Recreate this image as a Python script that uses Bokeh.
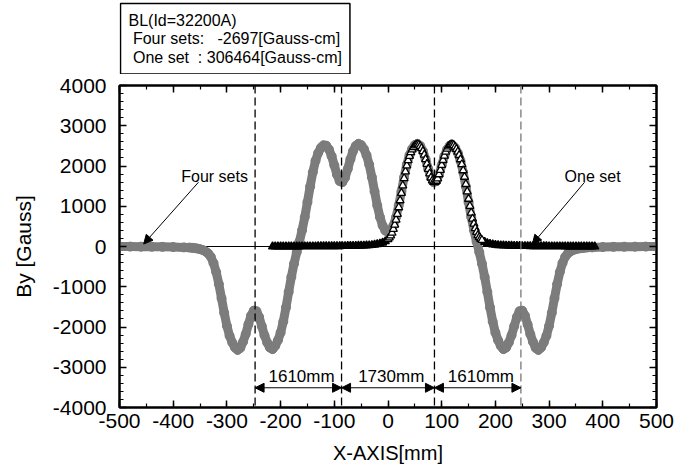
from bokeh.plotting import figure
from bokeh.layouts import column
from bokeh.models import (Range1d, LinearAxis, SingleIntervalTicker, Span, Arrow,
                          NormalHead, Label, ColumnDataSource, CustomJSTickFormatter)
from bokeh.embed import file_html
from bokeh.resources import INLINE

FONT = "Liberation Sans"

# ---- data: "Four sets" (gray circles) ----
four_x = [-500, -480, -460, -440, -420, -400, -380,
          -370, -365, -360, -355, -350, -345, -340, -335, -330, -325, -320, -315, -310, -305,
          -300, -295, -290, -285, -280, -275, -270, -265, -260, -255, -250, -245, -240, -235,
          -230, -225, -220, -215, -210, -205, -200, -195, -190, -185, -180, -175, -170, -165,
          -160, -155, -150, -145, -140, -135, -130, -125, -120, -115, -110, -105, -100, -95,
          -90, -85, -80, -75, -70, -65, -60, -55, -50, -45, -40, -35, -30, -25, -20, -15, -10, -5,
          0,
          5, 10, 15, 20, 25, 30, 35, 40, 45, 50, 55, 60, 65, 70, 75, 80, 85, 90, 95,
          100, 105, 110, 115, 120, 125, 130, 135, 140, 145, 150, 155, 160, 165, 170, 175,
          180, 185, 190, 195, 200, 205, 210, 215, 220, 225, 230, 235, 240, 245, 250, 255,
          260, 265, 270, 275, 280, 285, 290, 295, 300, 305, 310, 315, 320, 325, 330, 335,
          340, 345, 350, 355, 360, 365, 370,
          380, 400, 420, 440, 460, 480, 500]
four_by = [-2, -3, -4, -6, -9, -13, -22,
           -27, -32, -40, -51, -66, -87, -120, -172, -256, -409, -635, -933, -1286, -1650,
           -1973, -2219, -2386, -2510, -2570, -2520, -2370, -2178, -1938, -1716, -1594, -1606, -1752, -1980,
           -2210, -2385, -2510, -2550, -2470, -2330, -2140, -1866, -1515, -1130, -755, -428, -142, 120,
           406, 729, 1102, 1488, 1845, 2130, 2326, 2452, 2515, 2504, 2413, 2245, 2018, 1784,
           1625, 1598, 1709, 1925, 2168, 2373, 2500, 2552, 2522, 2427, 2268, 2035, 1722, 1367, 1021, 730, 520, 394,
           360,
           394, 520, 730, 1021, 1367, 1722, 2035, 2268, 2427, 2522, 2552, 2500, 2373, 2168, 1925, 1709, 1598, 1625, 1784,
           2018, 2245, 2413, 2504, 2515, 2452, 2326, 2130, 1845, 1488, 1102, 729, 406, 120, -142, -428,
           -755, -1130, -1515, -1866, -2140, -2330, -2470, -2550, -2510, -2385, -2210, -1980, -1752, -1606, -1594, -1716,
           -1938, -2178, -2370, -2520, -2570, -2510, -2386, -2219, -1973, -1650, -1286, -933, -635, -409, -256, -172,
           -120, -87, -66, -51, -40, -32, -27,
           -22, -13, -9, -6, -4, -3, -2]

# ---- data: "One set" (open triangles) ----
one_x = [-215, -210, -205, -200, -195, -190, -185, -180, -175, -170, -165, -160, -155, -150,
         -145, -140, -135, -130, -125, -120, -115, -110, -105, -100, -95, -90, -85, -80, -75,
         -70, -65, -60, -55, -50, -45, -40, -35, -30, -25, -20, -15, -10, -5,
         0, 2.5, 5, 7.5, 10, 12.5, 15, 17.5, 20, 22.5, 25, 27.5, 30, 32.5, 35, 37.5, 40, 42.5,
         45, 47.5, 50, 52.5, 55, 57.5, 60, 62.5, 65, 67.5, 70, 72.5, 75, 77.5, 80, 82.5, 85, 87.5,
         90, 92.5, 95, 97.5, 100, 102.5, 105, 107.5, 110, 112.5, 115, 117.5, 120, 122.5, 125, 127.5,
         130, 132.5, 135, 137.5, 140, 142.5, 145, 147.5, 150, 152.5, 155, 157.5, 160, 162.5, 165,
         167.5, 170, 172.5, 175,
         180, 185, 190, 195, 200, 205, 210, 215, 220, 225, 230, 235, 240, 245, 250, 255, 260,
         265, 270, 275, 280, 285, 290, 295, 300, 305, 310, 315, 320, 325, 330, 335, 340, 345,
         350, 355, 360, 365, 370, 375, 380, 385]
one_by = [0, 0, 1, 1, 1, 1, 2, 2, 2, 2, 2, 3, 3, 3,
          4, 4, 4, 5, 5, 5, 5, 6, 6, 7, 8, 8, 9, 10, 11,
          12, 13, 15, 17, 19, 22, 26, 29, 34, 43, 55, 70, 92, 128,
          182, 220, 270, 338, 433, 540, 665, 806, 971, 1144, 1329, 1512, 1692, 1860, 2010, 2142, 2247, 2338,
          2408, 2466, 2506, 2532, 2537, 2526, 2491, 2440, 2365, 2276, 2166, 2050, 1925, 1810, 1710, 1636, 1601, 1594,
          1629, 1690, 1790, 1900, 2025, 2144, 2254, 2350, 2425, 2484, 2519, 2538, 2533, 2514, 2474, 2422,
          2352, 2268, 2163, 2040, 1890, 1728, 1548, 1366, 1181, 1004, 839, 690, 565, 452, 357,
          280, 230, 188, 158,
          112, 82, 65, 50, 40, 33, 28, 25, 23, 20, 17, 15, 13, 11, 10, 9, 9,
          8, 7, 7, 6, 5, 5, 5, 4, 4, 4, 3, 3, 3, 2, 2, 2, 2,
          1, 1, 1, 1, 1, 0, 0, 0]

# ---- annotation values ----
magnet_edges = [-247.5, -86.5, 86.5, 247.5]
gap_labels = ["1610mm", "1730mm", "1610mm"]
box_lines = ["BL(Id=32200A)",
             "\u00a0Four sets:\u00a0\u00a0\u00a0-2697[Gauss-cm]",
             "\u00a0One set\u00a0\u00a0: 306464[Gauss-cm]"]

# ---------------- header strip with the info box ----------------
# (its frame is aligned with the chart frame below: pixels 119..656)
HDR_H = 74
hdr = figure(width=690, height=HDR_H, x_range=Range1d(119, 656), y_range=Range1d(0, HDR_H),
             output_backend="svg", toolbar_location=None, min_border=0,
             x_axis_location=None, y_axis_location=None)
hdr.xgrid.visible = False
hdr.ygrid.visible = False
hdr.outline_line_color = None
box_text = "\n".join(box_lines)
for shadow in (True, False):
    hdr.add_layout(Label(x=120, y=HDR_H - 3, text=box_text, text_font=FONT, text_font_size="16px",
                         text_align="left", text_baseline="top", text_line_height=1.1,
                         text_color="black", text_alpha=0 if shadow else 1,
                         x_offset=3 if shadow else 0, y_offset=-3 if shadow else 0,
                         background_fill_color="black" if shadow else "white",
                         border_line_color="black", border_line_width=1.5, padding=8))

# ---------------- main chart ----------------
p = figure(width=690, height=466 - HDR_H, x_range=Range1d(-500, 500), y_range=Range1d(-4000, 4000),
           output_backend="svg", toolbar_location=None,
           min_border_left=119, min_border_right=34, min_border_top=85 - HDR_H, min_border_bottom=58,
           x_axis_label="X-AXIS[mm]", y_axis_label="By [Gauss]")
p.xgrid.visible = False
p.ygrid.visible = False
p.outline_line_color = "black"
p.outline_line_width = 2

num_fmt = CustomJSTickFormatter(code="return tick.toFixed(0)")
blank = CustomJSTickFormatter(code="return ''")


def style_axis(ax, interval, nminor):
    ax.ticker = SingleIntervalTicker(interval=interval, num_minor_ticks=nminor)
    ax.axis_line_width = 2
    ax.axis_line_color = "black"
    ax.major_tick_in = 7
    ax.major_tick_out = 0
    ax.minor_tick_in = 4
    ax.minor_tick_out = 0
    ax.major_tick_line_width = 1.5
    ax.minor_tick_line_width = 1.2
    ax.major_tick_line_color = "black"
    ax.minor_tick_line_color = "black"
    ax.major_label_text_font = FONT
    ax.major_label_text_font_size = "21px"
    ax.major_label_text_color = "black"
    ax.axis_label_text_font = FONT
    ax.axis_label_text_font_style = "normal"
    ax.axis_label_text_color = "black"


xa = p.xaxis[0]
ya = p.yaxis[0]
style_axis(xa, 100, 2)
style_axis(ya, 1000, 5)
xa.formatter = num_fmt
ya.formatter = num_fmt
xa.axis_label_text_font_size = "20px"
ya.axis_label_text_font_size = "21px"
xa.major_label_standoff = 6
xa.axis_label_standoff = 11
ya.major_label_standoff = 13
ya.axis_label_standoff = 15

top = LinearAxis(formatter=blank)
style_axis(top, 100, 2)
top.major_label_standoff = 0
top.major_label_text_font_size = "0px"
right = LinearAxis(formatter=blank)
style_axis(right, 1000, 5)
right.major_label_standoff = 0
right.major_label_text_font_size = "0px"
p.add_layout(top, "above")
p.add_layout(right, "right")

# zero line
p.add_layout(Span(location=0, dimension="width", line_color="black", line_width=1, level="underlay"))

GRAY = "#7c7c7c"
four_src = ColumnDataSource(dict(x=four_x, y=four_by))
p.line("x", "y", source=four_src, line_color=GRAY, line_width=9, line_join="round", line_cap="round")
p.scatter("x", "y", source=four_src, marker="circle", size=9, fill_color=GRAY, line_color=GRAY)

# one set: packed (black) on the tails, open triangles over the humps
tail = [(x, y) for x, y in zip(one_x, one_by) if x < 0 or x > 175]
hump = [(x, y) for x, y in zip(one_x, one_by) if 0 <= x <= 175]
tail_src = ColumnDataSource(dict(x=[t[0] for t in tail], y=[t[1] for t in tail]))
hump_src = ColumnDataSource(dict(x=[h[0] for h in hump], y=[h[1] for h in hump]))
p.scatter("x", "y", source=tail_src, marker="triangle", size=8, fill_color="black",
          line_color="black", line_width=1.3)
p.scatter("x", "y", source=hump_src, marker="triangle", size=8, fill_color="white",
          line_color="black", line_width=1.3)

# magnet edge lines
for i, xe in enumerate(magnet_edges):
    col = "#777777" if i == 3 else "black"
    p.add_layout(Span(location=xe, dimension="height", line_color=col, line_width=1.3, line_dash="8 4"))

# dimension arrows
for i in range(3):
    p.add_layout(Arrow(x_start=magnet_edges[i], y_start=-3510, x_end=magnet_edges[i + 1], y_end=-3510,
                       start=NormalHead(size=9, fill_color="black", line_color="black"),
                       end=NormalHead(size=9, fill_color="black", line_color="black"),
                       line_color="black", line_width=1))
    mid = (magnet_edges[i] + magnet_edges[i + 1]) / 2 + 6
    p.add_layout(Label(x=mid, y=-3225, text=gap_labels[i], text_font=FONT, text_font_size="17px",
                       text_align="center", text_baseline="alphabetic", text_color="black"))

# series annotations
p.add_layout(Label(x=-323, y=1750, text="Four sets", text_font=FONT, text_font_size="16px",
                   text_align="center", text_baseline="alphabetic", text_color="black"))
p.add_layout(Arrow(x_start=-353, y_start=1596, x_end=-455, y_end=62,
                   end=NormalHead(size=9, fill_color="black", line_color="black"),
                   line_color="black", line_width=1))
p.add_layout(Label(x=381, y=1750, text="One set", text_font=FONT, text_font_size="16px",
                   text_align="center", text_baseline="alphabetic", text_color="black"))
p.add_layout(Arrow(x_start=366, y_start=1596, x_end=269, y_end=62,
                   end=NormalHead(size=9, fill_color="black", line_color="black"),
                   line_color="black", line_width=1))

layout = column(hdr, p, spacing=0)
open("out.html", "w").write(file_html(layout, INLINE))
